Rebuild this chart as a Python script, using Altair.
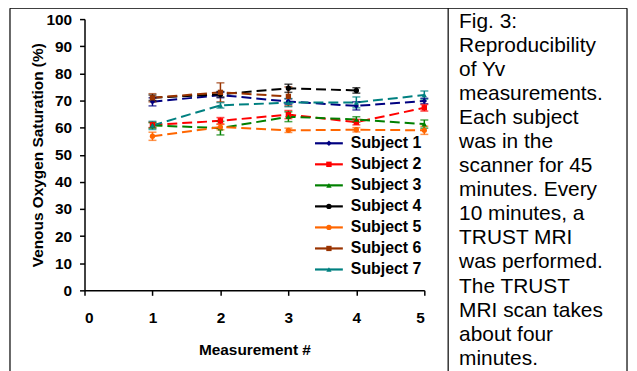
import altair as alt
import pandas as pd

# ---------------- data ----------------
subjects = ["Subject 1", "Subject 2", "Subject 3", "Subject 4",
            "Subject 5", "Subject 6", "Subject 7"]
colors = ["#000080", "#FF0000", "#008000", "#000000", "#FF6600", "#993300", "#008080"]
shapes = ["diamond", "square", "triangle-up", "circle", "circle", "square", "triangle-up"]
sizes = [30, 28, 40, 36, 22, 30, 45]

measurements = [1, 2, 3, 4, 5]

s1 = [69.5, 72.0, 69.6, 68.0, 69.8]
s2 = [61.0, 62.5, 64.8, 62.0, 67.3]
s3 = [60.8, 59.8, 64.0, 63.0, 61.3]
s4 = [71.0, 72.3, 74.5, 73.7]
s5 = [56.8, 60.2, 59.0, 59.2, 59.0]
s6 = [71.0, 73.0, 71.5]
s7 = [60.8, 68.2, 69.2, 69.3, 72.0]

e1 = [1.5, 1.0, 1.0, 1.5, 1.0]
e2 = [1.0, 1.2, 1.5, 1.0, 1.2]
e3 = [1.0, 2.5, 1.8, 1.0, 1.5]
e4 = [1.0, 1.0, 1.5, 1.0]
e5 = [1.5, 1.0, 0.8, 0.8, 1.5]
e6 = [1.5, 3.5, 3.5]
e7 = [1.5, 1.0, 1.5, 2.0, 1.5]

series = [s1, s2, s3, s4, s5, s6, s7]
errors = [e1, e2, e3, e4, e5, e6, e7]

caption = ["Fig. 3:", "Reproducibility", "of Yv", "measurements.", "Each subject",
           "was in the", "scanner for 45", "minutes. Every", "10 minutes, a",
           "TRUST MRI", "was performed.", "The TRUST", "MRI scan takes",
           "about four", "minutes."]

x_ticks = [0, 1, 2, 3, 4, 5]
y_ticks = list(range(0, 101, 10))

rows = []
for name, vals, errs in zip(subjects, series, errors):
    for m, v, e in zip(measurements, vals, errs):
        rows.append({"subject": name, "m": m, "v": v, "lo": v - e, "hi": v + e})
df = pd.DataFrame(rows)

legend_df = pd.DataFrame({"subject": subjects, "idx": list(range(len(subjects)))})
one = pd.DataFrame({"k": [0]})

FONT = "Liberation Sans"

color = alt.Color("subject:N", scale=alt.Scale(domain=subjects, range=colors), legend=None)
shape = alt.Shape("subject:N", scale=alt.Scale(domain=subjects, range=shapes), legend=None)
size = alt.Size("subject:N", scale=alt.Scale(domain=subjects, range=sizes), legend=None)

xaxis = alt.Axis(values=x_ticks, format="d", title="Measurement #",
                 tickSize=5, labelPadding=15, titlePadding=17)
yaxis = alt.Axis(values=y_ticks, format="d", title="Venous Oxygen Saturation (%)",
                 tickSize=5, labelPadding=8, titlePadding=0)

def X():
    return alt.X("m:Q", scale=alt.Scale(domain=[0, 5], nice=False), axis=xaxis)

def Y(field):
    return alt.Y(f"{field}:Q", scale=alt.Scale(domain=[0, 100], nice=False), axis=yaxis)

base = alt.Chart(df)

err_rule = base.mark_rule(strokeWidth=1.5).encode(x=X(), y=Y("lo"), y2="hi:Q", color=color)
cap_lo = base.mark_tick(orient="horizontal", size=8, thickness=1.5).encode(x=X(), y=Y("lo"), color=color)
cap_hi = base.mark_tick(orient="horizontal", size=8, thickness=1.5).encode(x=X(), y=Y("hi"), color=color)
lines = base.mark_line(strokeDash=[10, 5], strokeWidth=2).encode(
    x=X(), y=Y("v"), color=color, order="m:Q")
points = base.mark_point(filled=True, opacity=1).encode(
    x=X(), y=Y("v"), color=color, shape=shape, size=size)

main = alt.layer(lines, err_rule, cap_lo, cap_hi, points)

# manual legend (line + marker + label)
ly = alt.Y("idx:Q", scale=alt.Scale(domain=[0, 6], range=[125, 252]), axis=None)
lg = alt.Chart(legend_df)
leg_line = lg.mark_rule(strokeWidth=2.2).encode(
    x=alt.value(232), x2=alt.value(260), y=ly, color=color)
leg_pt = lg.mark_point(filled=True, opacity=1).encode(
    x=alt.value(246), y=ly, color=color, shape=shape, size=size)
leg_txt = lg.mark_text(align="left", baseline="middle", font=FONT, fontSize=16,
                       fontWeight="bold", color="black").encode(
    x=alt.value(268), y=ly, text="subject:N")
legend = alt.layer(leg_line, leg_pt, leg_txt)

# frame lines and caption
deco = alt.Chart(one)
top_line = deco.mark_rule(color="black", strokeWidth=1.2).encode(
    x=alt.value(-75), x2=alt.value(546), y=alt.value(-11))
left_line = deco.mark_rule(color="black", strokeWidth=1.2).encode(
    x=alt.value(-75), y=alt.value(-11), y2=alt.value(370))
sep_line = deco.mark_rule(color="black", strokeWidth=1.2).encode(
    x=alt.value(366), y=alt.value(-11), y2=alt.value(370))
right_line = deco.mark_rule(color="black", strokeWidth=1.2).encode(
    x=alt.value(546), y=alt.value(-11), y2=alt.value(370))
cap_text = deco.mark_text(text=caption, align="left", baseline="top", font=FONT,
                          fontSize=21, lineHeight=24.2, color="black").encode(
    x=alt.value(377), y=alt.value(-8))
decor = alt.layer(top_line, left_line, sep_line, right_line, cap_text)

chart = alt.layer(main, legend, decor).resolve_scale(y="independent").properties(
    width=342, height=273,
    autosize=alt.AutoSizeParams(type="none"),
    padding={"left": 77, "top": 10, "right": 206, "bottom": 80},
).configure_view(stroke=None).configure_axis(
    grid=False, domainColor="black", domainWidth=1.5, tickColor="black", tickWidth=1.5,
    labelFont=FONT, labelFontSize=15.5, labelFontWeight="bold", labelColor="black",
    titleFont=FONT, titleFontSize=15.5, titleFontWeight="bold", titleColor="black",
)

chart.save("out.html", embed_options={"renderer": "svg", "actions": False})
